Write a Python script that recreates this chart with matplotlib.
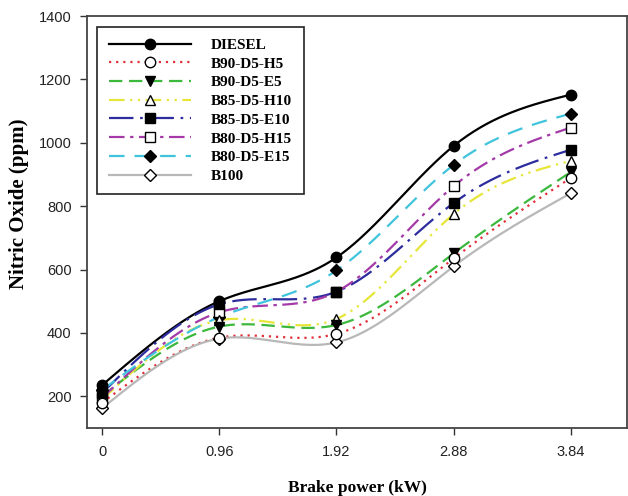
import numpy as np
import matplotlib
matplotlib.use("Agg")
import matplotlib.pyplot as plt
from matplotlib.lines import Line2D

# brake power (kW)
power = [0, 0.96, 1.92, 2.88, 3.84]
tick_labels = ["0", "0.96", "1.92", "2.88", "3.84"]

# nitric oxide (ppm)
diesel = [235, 500, 638, 990, 1152]
b90_h5 = [180, 385, 397, 635, 889]
b90_e5 = [200, 420, 425, 651, 908]
b85_h10 = [190, 440, 444, 775, 943]
b85_e10 = [210, 490, 530, 810, 978]
b80_h15 = [195, 465, 530, 863, 1048]
b80_e15 = [220, 450, 597, 930, 1092]
b100 = [162, 382, 370, 610, 841]

names = ["DIESEL", "B90-D5-H5", "B90-D5-E5", "B85-D5-H10",
         "B85-D5-E10", "B80-D5-H15", "B80-D5-E15", "B100"]
series = [diesel, b90_h5, b90_e5, b85_h10, b85_e10, b80_h15, b80_e15, b100]

colors = ["black", "#e0303a", "#3cb83c", "#e6e63a", "#2c2c9e", "#a43aa8", "#40c4dc", "#b8b8b8"]
styles = ["-", (0, (1, 2.2)), (0, (6, 3)), (0, (7, 2.5, 1, 2.5, 1, 2.5)),
          (0, (11, 3, 1.2, 3)), (0, (7, 2.5, 1.5, 2.5)), (0, (7, 4.5)), "-"]
markers = ["o", "o", "v", "^", "s", "s", "D", "D"]
faces = ["black", "white", "black", "white", "black", "white", "black", "white"]
msizes = [7.5, 7.5, 7.5, 7.5, 7, 7, 6, 6]


def natural_spline(x, y, xs):
    # natural cubic spline, just for drawing the smooth curve
    x = np.asarray(x, float)
    y = np.asarray(y, float)
    n = len(x)
    h = np.diff(x)
    A = np.zeros((n, n))
    r = np.zeros(n)
    A[0, 0] = 1
    A[-1, -1] = 1
    for i in range(1, n - 1):
        A[i, i - 1] = h[i - 1]
        A[i, i] = 2 * (h[i - 1] + h[i])
        A[i, i + 1] = h[i]
        r[i] = 3 * ((y[i + 1] - y[i]) / h[i] - (y[i] - y[i - 1]) / h[i - 1])
    c = np.linalg.solve(A, r)
    b = (y[1:] - y[:-1]) / h - h * (2 * c[:-1] + c[1:]) / 3
    d = (c[1:] - c[:-1]) / (3 * h)
    idx = np.clip(np.searchsorted(x, xs) - 1, 0, n - 2)
    t = xs - x[idx]
    return y[idx] + b[idx] * t + c[idx] * t ** 2 + d[idx] * t ** 3


fig = plt.figure(figsize=(6.28, 4.96), dpi=100)
ax = fig.add_axes([87 / 628, 1 - 428 / 496, 540 / 628, 412 / 496])

xs = np.linspace(power[0], power[-1], 300)
handles = []
for i in range(len(series)):
    ys = natural_spline(power, series[i], xs)
    ax.plot(xs, ys, color=colors[i], linestyle=styles[i], lw=1.6, zorder=2)
    ax.plot(power, series[i], linestyle="none", marker=markers[i], ms=msizes[i],
            mfc=faces[i], mec="black", mew=1.0, zorder=3 + (8 - i) * 0.1)
    handles.append(Line2D([], [], color=colors[i], linestyle=styles[i], lw=1.6,
                          marker=markers[i], ms=msizes[i], mfc=faces[i], mec="black", mew=1.0))

ax.set_xlim(-0.123, 4.30)
ax.set_ylim(100, 1400)
ax.set_xticks(power)
ax.set_xticklabels(tick_labels)
ax.set_yticks(range(200, 1401, 200))
ax.tick_params(direction="out", length=5, width=1, colors="#333333",
               labelsize=10.5, labelcolor="#222222", pad=6)
ax.tick_params(axis="x", pad=7)
for s in ax.spines.values():
    s.set_color("#444444")
    s.set_linewidth(1.3)
for lab in ax.get_xticklabels() + ax.get_yticklabels():
    lab.set_family("Liberation Sans")

ax.set_xlabel("Brake power (kW)", family="Liberation Serif", weight="bold", fontsize=12.5, labelpad=15)
ax.set_ylabel("Nitric Oxide (ppm)", family="Liberation Serif", weight="bold", fontsize=15)
ax.yaxis.set_label_coords(-0.108, 0.545)

leg = ax.legend(handles, names, loc="upper left", bbox_to_anchor=(0.019, 0.974),
                numpoints=1, handlelength=5.4, handletextpad=1.3, labelspacing=0.33,
                borderpad=0.75, fancybox=False, framealpha=1, borderaxespad=0,
                prop={"family": "Liberation Serif", "weight": "bold", "size": 11})
leg.get_frame().set_edgecolor("#222222")
leg.get_frame().set_linewidth(1.2)

fig.savefig("out.png", dpi=100)
